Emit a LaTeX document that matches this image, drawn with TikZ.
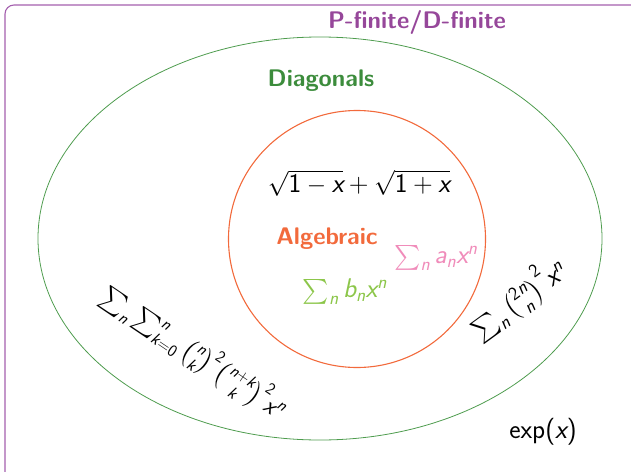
\documentclass[tikz,border=0pt]{standalone}
\usepackage{amsmath}
\DeclareSymbolFont{sfletters}{TU}{lmss}{m}{sl}
\SetSymbolFont{operators}{normal}{TU}{lmss}{m}{n}
\DeclareMathSymbol{a}{\mathalpha}{sfletters}{`a}
\DeclareMathSymbol{b}{\mathalpha}{sfletters}{`b}
\DeclareMathSymbol{k}{\mathalpha}{sfletters}{`k}
\DeclareMathSymbol{n}{\mathalpha}{sfletters}{`n}
\DeclareMathSymbol{x}{\mathalpha}{sfletters}{`x}
\definecolor{framepurple}{HTML}{A460AE}
\definecolor{titlepurple}{HTML}{96479A}
\definecolor{diaggreen}{HTML}{3C8C3C}
\definecolor{ellgreen}{HTML}{4E9C4E}
\definecolor{algorange}{HTML}{F26A3C}
\definecolor{pinkish}{HTML}{F08CBA}
\definecolor{lightgreen}{HTML}{8CC64A}
\tikzset{
  lbl/.style={font=\sffamily\bfseries\fontsize{24}{28}\selectfont, inner sep=0pt},
  mth/.style={font=\fontsize{27}{31}\selectfont, inner sep=0pt},
  mths/.style={font=\fontsize{24}{28}\selectfont, inner sep=0pt},
}
\begin{document}
\begin{tikzpicture}[x=1pt,y=-1pt]
\useasboundingbox (0,0) rectangle (631,471);
\begin{scope}
\clip (0,0) rectangle (631,471);
\draw[framepurple, line width=1.1pt, rounded corners=9pt] (5,5) rectangle (642,482);
\end{scope}
\draw[ellgreen, line width=0.8pt] (320,238.5) ellipse [x radius=282, y radius=201.5];
\draw[algorange, line width=1.1pt] (357,239) circle [radius=128.5];
\node[lbl, text=titlepurple] (title) at (417,22) {P-finite/D-finite};
\node[lbl, text=diaggreen] (diag) at (321,81) {Diagonals};
\node[lbl, text=algorange] (alg) at (327,239) {Algebraic};
\node[mth] (sq) at (359,183) {$\sqrt{1-x}+\sqrt{1+x}$};
\node[mth, text=pinkish] (an) at (436,258) {$\sum_n a_n x^n$};
\node[mth, text=lightgreen] (bn) at (345,292) {$\sum_n b_n x^n$};
\node[mths, rotate=-34] (apery) at (194,352) {$\sum_n \sum_{k=0}^n \binom{n}{k}^2\binom{n+k}{k}^2 x^n$};
\node[mth, rotate=36] (cb) at (518,299) {$\sum_n \binom{2n}{n}^2 x^n$};
\node[mth] (ex) at (543,432) {$\exp(x)$};
\end{tikzpicture}
\end{document}
